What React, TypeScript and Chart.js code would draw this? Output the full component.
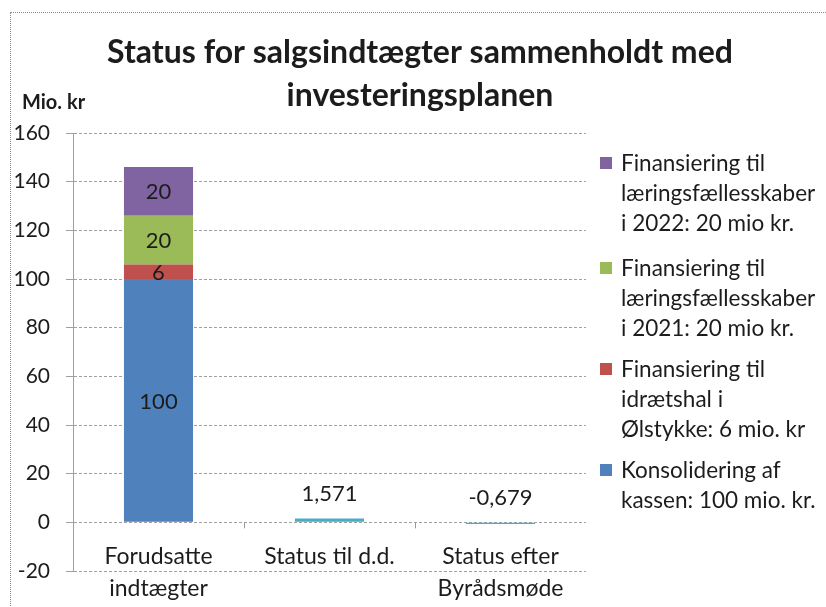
import React, { useEffect, useRef } from "react";
import { Chart, registerables } from "chart.js";

Chart.register(...registerables);

// ---- data ----
const categories: string[][] = [["Forudsatte", "indtægter"], ["Status til d.d."], ["Status efter", "Byrådsmøde"]];
const konsolidering: (number | null)[] = [100, null, null];
const idraetshal: (number | null)[] = [6, null, null];
const laering2021: (number | null)[] = [20, null, null];
const laering2022: (number | null)[] = [20, null, null];
const statusValues: (number | null)[] = [null, 1.571, -0.679];

const yMin = -20;
const yMax = 160;
const yStep = 20;

const titleLines = ["Status for salgsindtægter sammenholdt med", "investeringsplanen"];
const yAxisTitle = "Mio. kr";

const legendKonsolidering = ["Konsolidering af", "kassen: 100 mio. kr."];
const legendIdraetshal = ["Finansiering til", "idrætshal i", "Ølstykke: 6 mio. kr"];
const legend2021 = ["Finansiering til", "læringsfællesskaber", "i 2021: 20 mio kr."];
const legend2022 = ["Finansiering til", "læringsfællesskaber", "i 2022: 20 mio kr."];

const BLUE = "#4f81bd";
const RED = "#c0504d";
const GREEN = "#9bbb59";
const PURPLE = "#8064a2";
const AQUA = "#4bacc6";

const FONT = "Lato, 'Open Sans', sans-serif";
const TEXT = "#1c1c1c";

const fmt = (v: number) => String(v).replace(".", ",");

const labelPlugin = {
  id: "valueLabels",
  afterDraw(chart: any) {
    const ctx = chart.ctx;
    const yScale = chart.scales.y;
    const xScale = chart.scales.x;
    const zeroY = yScale.getPixelForValue(0);
    ctx.save();
    // category boundary ticks on zero line
    ctx.strokeStyle = "#999";
    ctx.lineWidth = 1;
    for (let i = 0; i < chart.data.labels.length - 1; i++) {
      const xm = Math.round((xScale.getPixelForValue(i) + xScale.getPixelForValue(i + 1)) / 2) + 0.5;
      ctx.beginPath();
      ctx.moveTo(xm, zeroY);
      ctx.lineTo(xm, zeroY + 6);
      ctx.stroke();
    }
    ctx.fillStyle = TEXT;
    ctx.textAlign = "center";
    ctx.textBaseline = "middle";
    // category labels
    ctx.font = `23px ${FONT}`;
    const bottom = chart.chartArea.bottom;
    chart.data.labels.forEach((lab: any, i: number) => {
      const lines = Array.isArray(lab) ? lab : [lab];
      const x = xScale.getPixelForValue(i);
      lines.forEach((ln: string, k: number) => {
        ctx.fillText(ln, x, bottom - 14 + k * 32);
      });
    });
    // value labels
    ctx.font = `22px ${FONT}`;
    chart.data.datasets.forEach((ds: any, i: number) => {
      const meta = chart.getDatasetMeta(i);
      meta.data.forEach((bar: any, j: number) => {
        const v = ds.data[j];
        if (v === null || v === undefined) return;
        let y: number;
        if (ds.labelAbove) {
          y = Math.min(bar.y, bar.base) - 25;
        } else {
          y = (bar.y + bar.base) / 2 + 1;
        }
        ctx.fillText(fmt(v), bar.x, y);
      });
    });
    // y-axis unit label
    ctx.font = `bold 20px ${FONT}`;
    ctx.textAlign = "left";
    ctx.fillText(yAxisTitle, 22, 103);
    ctx.restore();
  },
};

const legendItems = [
  { color: PURPLE, lines: legend2022, top: 148 },
  { color: GREEN, lines: legend2021, top: 253 },
  { color: RED, lines: legendIdraetshal, top: 354 },
  { color: BLUE, lines: legendKonsolidering, top: 455 },
];

export default function App() {
  const ref = useRef<HTMLCanvasElement | null>(null);

  useEffect(() => {
    if (!ref.current) return;
    const chart = new Chart(ref.current, {
      type: "bar",
      data: {
        labels: categories as any,
        datasets: [
          { label: legendKonsolidering.join(" "), data: konsolidering, backgroundColor: BLUE },
          { label: legendIdraetshal.join(" "), data: idraetshal, backgroundColor: RED },
          { label: legend2021.join(" "), data: laering2021, backgroundColor: GREEN },
          { label: legend2022.join(" "), data: laering2022, backgroundColor: PURPLE },
          { label: "Status", data: statusValues, backgroundColor: AQUA, labelAbove: true } as any,
        ],
      },
      options: {
        responsive: false,
        animation: false,
        devicePixelRatio: 1,
        datasets: { bar: { categoryPercentage: 1, barPercentage: 0.404 } },
        layout: { padding: { top: 10, left: 14, right: 0, bottom: 0 } },
        plugins: {
          legend: { display: false },
          tooltip: { enabled: false },
          title: {
            display: true,
            text: titleLines,
            color: TEXT,
            font: { family: FONT, size: 32, weight: "bold", lineHeight: 43 / 32 },
            padding: { top: 21, bottom: 16 },
          },
        },
        scales: {
          x: {
            stacked: true,
            grid: { display: false },
            border: { display: false },
            ticks: { display: false },
            afterFit: (s: any) => {
              s.height = 36;
            },
          },
          y: {
            stacked: true,
            min: yMin,
            max: yMax,
            ticks: {
              stepSize: yStep,
              color: TEXT,
              font: { family: FONT, size: 21 },
              padding: 16,
            },
            grid: { color: "#a0a0a0", tickLength: 7, lineWidth: 1 },
            border: { display: true, color: "#a0a0a0", dash: [3, 2] },
            afterFit: (s: any) => {
              s.width = 59;
            },
          },
          yRight: {
            type: "linear",
            position: "right",
            display: true,
            grid: { display: false },
            border: { display: false },
            ticks: { display: false },
            afterFit: (s: any) => {
              s.width = 240;
            },
          },
        },
      } as any,
      plugins: [labelPlugin],
    });
    return () => chart.destroy();
  }, []);

  return (
    <div
      style={{
        position: "fixed",
        left: 0,
        top: 0,
        width: 826,
        height: 607,
        background: "#fff",
        overflow: "hidden",
      }}
    >
      <div
        style={{
          position: "absolute",
          left: 10,
          top: 12,
          width: 900,
          height: 700,
          border: "1px dotted #8c8c8c",
        }}
      />
      <canvas ref={ref} width={826} height={607} style={{ position: "absolute", left: 0, top: 0, display: "block" }} />
      {legendItems.map((it, i) => (
        <div
          key={i}
          style={{
            position: "absolute",
            left: 600,
            top: it.top,
            fontFamily: FONT,
            fontSize: 22.5,
            lineHeight: "30px",
            color: TEXT,
            whiteSpace: "nowrap",
          }}
        >
          <span
            style={{
              position: "absolute",
              left: 0,
              top: 9,
              width: 12,
              height: 12,
              background: it.color,
            }}
          />
          <div style={{ marginLeft: 21 }}>
            {it.lines.map((l, k) => (
              <div key={k}>{l}</div>
            ))}
          </div>
        </div>
      ))}
    </div>
  );
}
